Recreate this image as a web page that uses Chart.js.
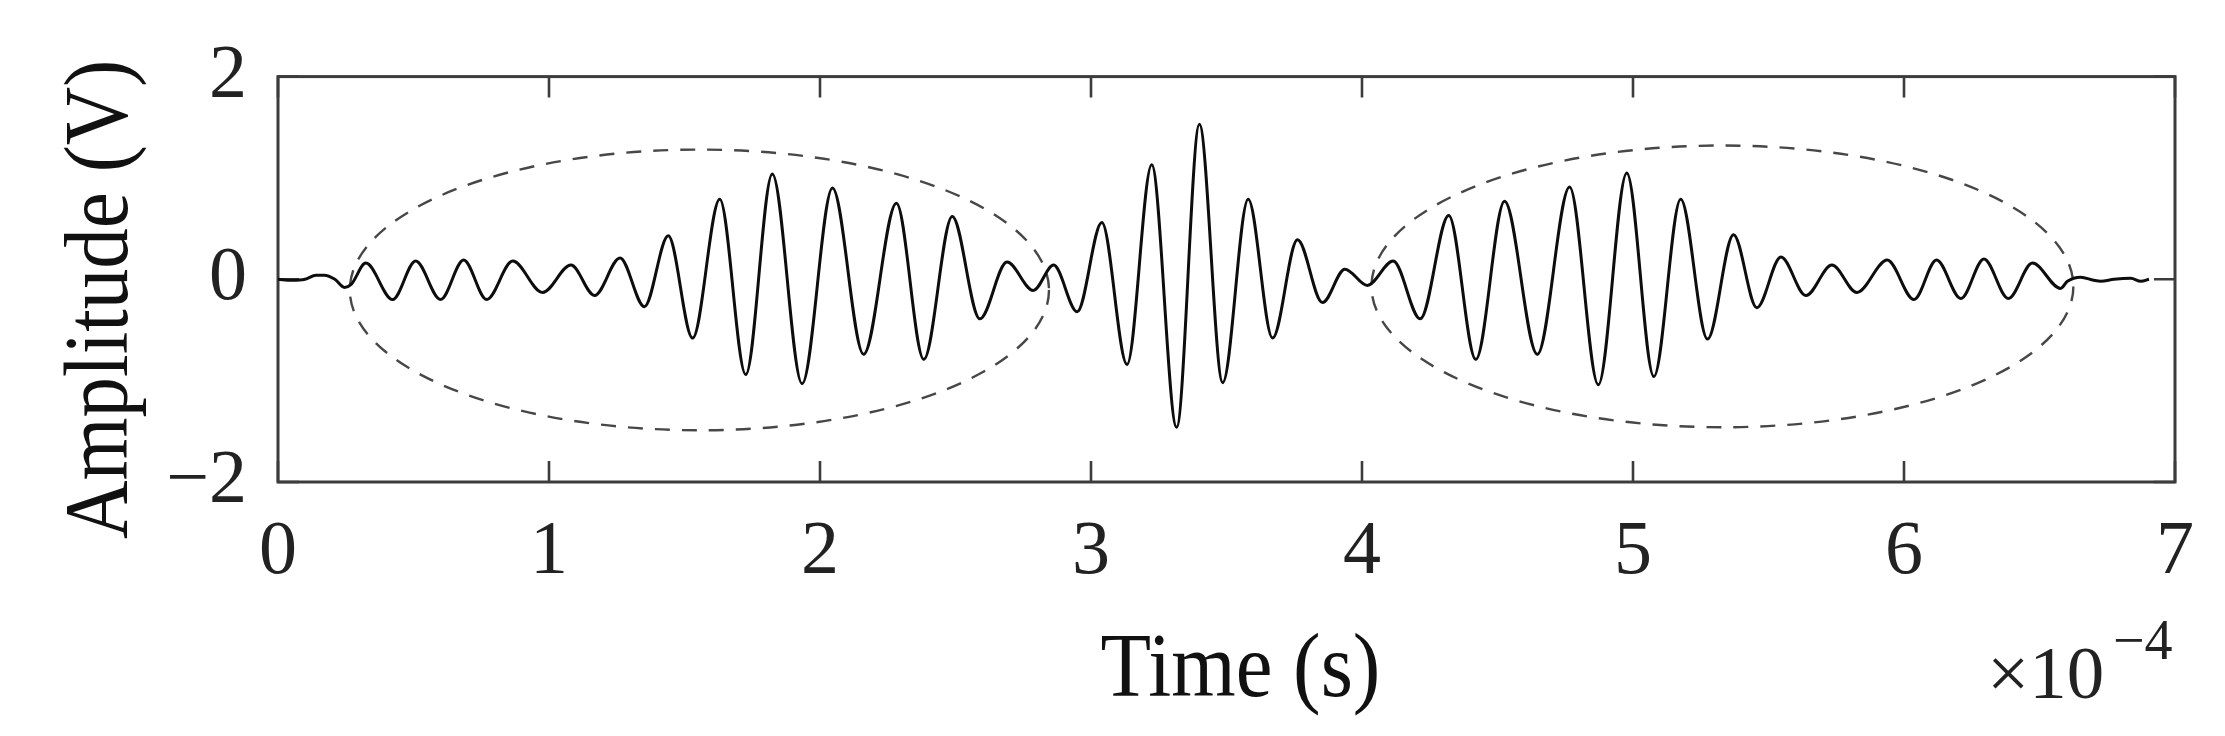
<!DOCTYPE html>
<html>
<head>
<meta charset="utf-8">
<title>Amplitude vs time</title>
<script src="https://cdn.jsdelivr.net/npm/chart.js@4.4.1/dist/chart.umd.min.js"></script>
<style>
    html, body { margin: 0; padding: 0; background: #fff; }
    #wrap { width: 2225px; height: 736px; }
</style>
</head>
<body>
<div id="wrap"><canvas id="myChart" width="2225" height="736"></canvas></div>
<script>
// signal: time in units of 1e-4 s, amplitude in V
let timeValues = [
    0.00, 0.05, 0.10, 0.14, 0.17, 0.21, 0.245, 0.27,
    0.324, 0.423, 0.508, 0.600, 0.685, 0.770, 0.866, 0.976,
    1.081, 1.168, 1.262, 1.352, 1.440, 1.530, 1.630, 1.726,
    1.824, 1.934, 2.046, 2.161, 2.282, 2.383, 2.488, 2.590,
    2.690, 2.787, 2.862, 2.949, 3.040, 3.133, 3.224, 3.316,
    3.400, 3.486, 3.580, 3.670, 3.762, 3.854, 3.937, 4.020,
    4.115, 4.215, 4.320, 4.420, 4.526, 4.647, 4.766, 4.872,
    4.977, 5.077, 5.176, 5.275, 5.371, 5.457, 5.546, 5.638,
    5.734, 5.826, 5.938, 6.037, 6.120, 6.210, 6.295, 6.385,
    6.474, 6.578, 6.603, 6.652, 6.700, 6.726, 6.775, 6.837,
    6.874, 6.904
];
let amplitudeValues = [
    0.00, -0.01, 0.00, 0.04, 0.04, 0.00, -0.08, -0.05,
    0.16, -0.20, 0.18, -0.20, 0.19, -0.20, 0.18, -0.13,
    0.14, -0.16, 0.21, -0.27, 0.43, -0.58, 0.79, -0.94,
    1.04, -1.03, 0.90, -0.74, 0.75, -0.79, 0.62, -0.39,
    0.17, -0.11, 0.14, -0.32, 0.56, -0.84, 1.13, -1.46,
    1.53, -1.02, 0.79, -0.58, 0.39, -0.23, 0.10, -0.06,
    0.18, -0.39, 0.63, -0.79, 0.77, -0.74, 0.91, -1.04,
    1.05, -0.96, 0.79, -0.59, 0.44, -0.28, 0.22, -0.16,
    0.14, -0.13, 0.19, -0.20, 0.19, -0.19, 0.20, -0.19,
    0.16, -0.09, -0.02, 0.02, -0.01, -0.02, 0.00, 0.01,
    -0.02, 0.00
];

let xTickLabels = ['0', '1', '2', '3', '4', '5', '6', '7'];
let yTickLabels = ['\u22122', '0', '2'];

// dashed ellipses marking the two echo packets (data units)
let ellipseCenterX = [1.555, 5.33];
let ellipseCenterY = [-0.105, -0.07];
let ellipseRadiusX = [1.29, 1.295];
let ellipseRadiusY = [1.385, 1.39];

const serif = '"Liberation Serif", "Times New Roman", serif';
const boxColor = '#3c3c3c';

// box, inward ticks and dashed ellipses (under the signal)
let frameplugin = {
    id: 'frame',
    beforeDatasetsDraw(chart) {
        let {ctx, chartArea: a, scales: {x, y}} = chart;
        ctx.save();

        ctx.strokeStyle = '#474747';
        ctx.lineWidth = 2.4;
        ctx.setLineDash([15, 12]);
        for (let i = 0; i < ellipseCenterX.length; i++) {
            let cx = x.getPixelForValue(ellipseCenterX[i]);
            let cy = y.getPixelForValue(ellipseCenterY[i]);
            let rx = x.getPixelForValue(ellipseCenterX[i] + ellipseRadiusX[i]) - cx;
            let ry = cy - y.getPixelForValue(ellipseCenterY[i] + ellipseRadiusY[i]);
            ctx.beginPath();
            ctx.ellipse(cx, cy, rx, ry, 0, 0, Math.PI * 2);
            ctx.stroke();
        }
        ctx.setLineDash([]);

        let tl = 21;
        ctx.strokeStyle = boxColor;
        ctx.lineWidth = 2.6;
        ctx.beginPath();
        x.ticks.forEach(t => {
            let px = x.getPixelForValue(t.value);
            ctx.moveTo(px, a.bottom); ctx.lineTo(px, a.bottom - tl);
            ctx.moveTo(px, a.top); ctx.lineTo(px, a.top + tl);
        });
        y.ticks.forEach(t => {
            let py = y.getPixelForValue(t.value);
            ctx.moveTo(a.left, py); ctx.lineTo(a.left + tl, py);
            ctx.moveTo(a.right, py); ctx.lineTo(a.right - tl, py);
        });
        ctx.stroke();
        ctx.lineWidth = 3;
        ctx.strokeRect(a.left, a.top, a.right - a.left, a.bottom - a.top);
        ctx.restore();
    },
    afterDraw(chart) {
        let {ctx, chartArea: a} = chart;
        ctx.save();
        ctx.fillStyle = '#111';

        // x title
        ctx.save();
        ctx.font = '90px ' + serif;
        ctx.textAlign = 'center';
        ctx.textBaseline = 'alphabetic';
        ctx.translate((a.left + a.right) / 2 + 14, a.bottom + 214);
        ctx.scale(0.92, 1);
        ctx.fillText('Time (s)', 0, 0);
        ctx.restore();

        // y title
        ctx.save();
        ctx.font = '90px ' + serif;
        ctx.textAlign = 'center';
        ctx.textBaseline = 'alphabetic';
        ctx.translate(a.left - 151, (a.top + a.bottom) / 2 + 20);
        ctx.rotate(-Math.PI / 2);
        ctx.scale(0.9, 1);
        ctx.fillText('Amplitude (V)', 0, 0);
        ctx.restore();

        // exponent note
        ctx.fillStyle = '#222';
        ctx.textAlign = 'left';
        ctx.textBaseline = 'alphabetic';
        ctx.font = '75px ' + serif;
        ctx.fillText('\u00d710', a.right - 188, a.bottom + 216);
        ctx.font = '56px ' + serif;
        ctx.fillText('\u22124', a.right - 62, a.bottom + 177);
        ctx.restore();
    }
};

let ctx = document.getElementById('myChart').getContext('2d');
let chart = new Chart(ctx, {
    type: 'line',
    data: {
        datasets: [{
            label: 'Amplitude',
            data: timeValues.map((t, i) => ({x: t, y: amplitudeValues[i]})),
            borderColor: '#0d0d0d',
            borderWidth: 3,
            pointRadius: 0,
            fill: false,
            cubicInterpolationMode: 'monotone'
        }]
    },
    options: {
        responsive: false,
        animation: false,
        layout: {padding: {left: 0, right: 50, top: 72, bottom: 0}},
        plugins: {
            legend: {display: false},
            tooltip: {enabled: false}
        },
        scales: {
            x: {
                type: 'linear',
                min: 0,
                max: 7,
                grid: {display: false, drawTicks: false},
                border: {display: false},
                ticks: {
                    stepSize: 1,
                    padding: 25,
                    color: '#222',
                    font: {family: serif, size: 76},
                    maxRotation: 0,
                    callback: (v, i) => xTickLabels[i]
                },
                afterFit: s => { s.height = 254; }
            },
            y: {
                min: -2,
                max: 2,
                grid: {display: false, drawTicks: false},
                border: {display: false},
                ticks: {
                    stepSize: 2,
                    padding: 31,
                    color: '#222',
                    font: {family: serif, size: 76},
                    callback: (v, i) => yTickLabels[i]
                },
                afterFit: s => { s.width = 278; }
            }
        }
    },
    plugins: [frameplugin]
});
</script>
</body>
</html>
